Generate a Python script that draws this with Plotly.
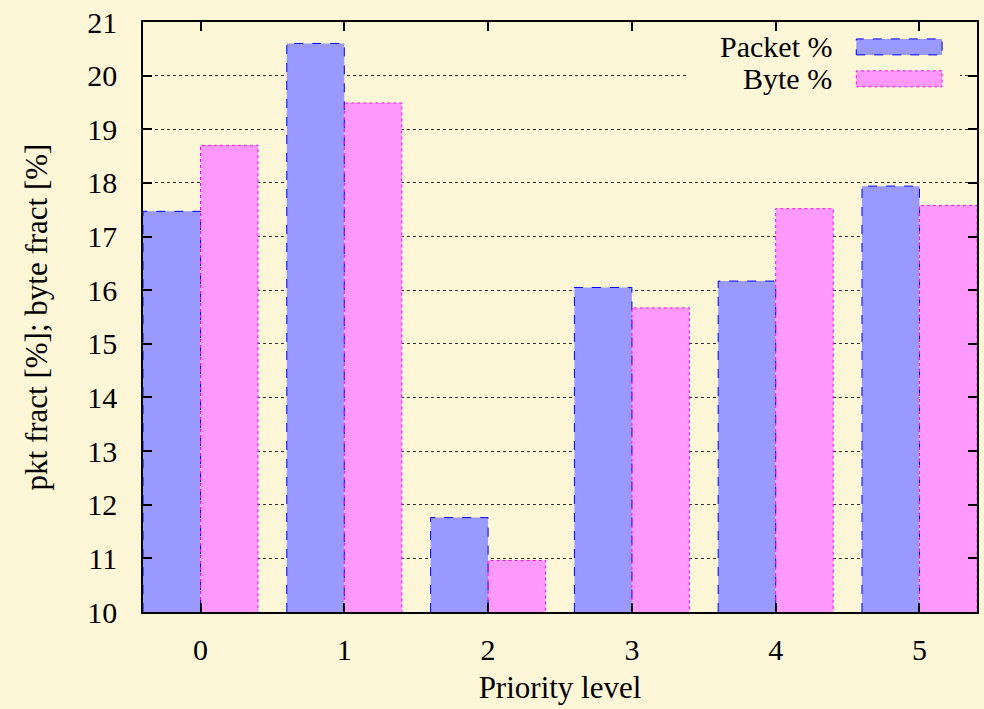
import plotly.graph_objects as go

# Priority levels and traffic shares per level
levels = [0, 1, 2, 3, 4, 5]
packet_pct = [17.47, 20.60, 11.76, 16.05, 16.17, 17.94]
byte_pct = [18.70, 19.49, 10.96, 15.67, 17.52, 17.58]

BG = "#fdf7d8"
FONT = "Times New Roman, Liberation Serif, Tinos, serif"
FONT_ALT = "Liberation Serif, Times New Roman, Tinos, serif"
PKT_FILL, PKT_EDGE = "#9999ff", "#0000ff"
BYTE_FILL, BYTE_EDGE = "#ff99ff", "#ff00ff"
BAR_W = 0.4
Y_MIN, Y_MAX = 10, 21


def outline(xs, vals, offset):
    """Open rectangle outline (left, top, right edges) for each bar."""
    px, py = [], []
    for x, v in zip(xs, vals):
        left = x + offset
        right = left + BAR_W
        px += [left, left, right, right, None]
        py += [Y_MIN, v, v, Y_MIN, None]
    return px, py


fig = go.Figure()
fig.add_trace(go.Bar(x=levels, y=packet_pct, name="Packet %",
                     marker=dict(color=PKT_FILL, line=dict(width=0))))
fig.add_trace(go.Bar(x=levels, y=byte_pct, name="Byte %",
                     marker=dict(color=BYTE_FILL, line=dict(width=0))))

ox, oy = outline(levels, packet_pct, -BAR_W)
fig.add_trace(go.Scatter(x=ox, y=oy, mode="lines",
                         line=dict(color=PKT_EDGE, width=1, dash="dash")))
ox, oy = outline(levels, byte_pct, 0)
fig.add_trace(go.Scatter(x=ox, y=oy, mode="lines",
                         line=dict(color=BYTE_EDGE, width=1, dash="dot")))

fig.update_layout(
    width=984, height=709,
    margin=dict(l=143, r=5, t=20, b=97),
    paper_bgcolor=BG, plot_bgcolor=BG,
    barmode="group", bargap=0.2, bargroupgap=0,
    showlegend=False,
    font=dict(family=FONT, size=30, color="black"),
)

fig.update_xaxes(
    range=[-0.4, 5.4], tick0=0, dtick=1,
    showgrid=False, zeroline=False,
    showline=True, linecolor="black", linewidth=1.5, mirror="ticks",
    ticks="inside", ticklen=9, tickwidth=1.5, tickcolor="black",
    ticklabelstandoff=10,
    title=dict(text="Priority level", standoff=12, font=dict(size=31)),
)
fig.update_yaxes(
    range=[Y_MIN, Y_MAX], tick0=Y_MIN, dtick=1,
    showgrid=True, gridcolor="#333333", gridwidth=1, griddash="dot",
    zeroline=False,
    showline=True, linecolor="black", linewidth=1.5, mirror="ticks",
    ticks="inside", ticklen=9, tickwidth=1.5, tickcolor="black",
    ticklabelstandoff=18,
    title=dict(text="pkt fract [%]; byte fract [%]", standoff=30,
               font=dict(size=31)),
)

# Key: labels right-aligned, swatches to their right, on an opaque patch
fig.add_shape(type="rect", xref="paper", yref="paper", layer="above",
              x0=(690 - 143) / 836, x1=(962 - 143) / 836,
              y0=(612 - 95) / 592, y1=(612 - 31) / 592,
              fillcolor=BG, line=dict(width=0))
key = [("Packet %", PKT_FILL, PKT_EDGE, "dash", 45),
       ("Byte %", BYTE_FILL, BYTE_EDGE, "dot", 77)]
for label, fill, edge, dash, yc in key:
    yp = (612 - yc) / 592
    fig.add_annotation(x=(836 - 143) / 836, y=yp, xref="paper", yref="paper",
                       text=label, showarrow=False, xanchor="right",
                       yanchor="middle", font=dict(size=30))
    fig.add_shape(type="rect", xref="paper", yref="paper", layer="above",
                  x0=(858 - 143) / 836, x1=(944 - 143) / 836,
                  y0=(612 - yc - 8) / 592, y1=(612 - yc + 8) / 592,
                  fillcolor=fill, line=dict(color=edge, width=1, dash=dash))

# Redraw the text once the page is up so the serif face is picked up
redraw = (
    "var gd = document.getElementById('{plot_id}');"
    "requestAnimationFrame(function () {"
    "  Plotly.relayout(gd, {'font.family': '" + FONT_ALT + "'});"
    "});"
)

fig.write_html("out.html", post_script=redraw)
